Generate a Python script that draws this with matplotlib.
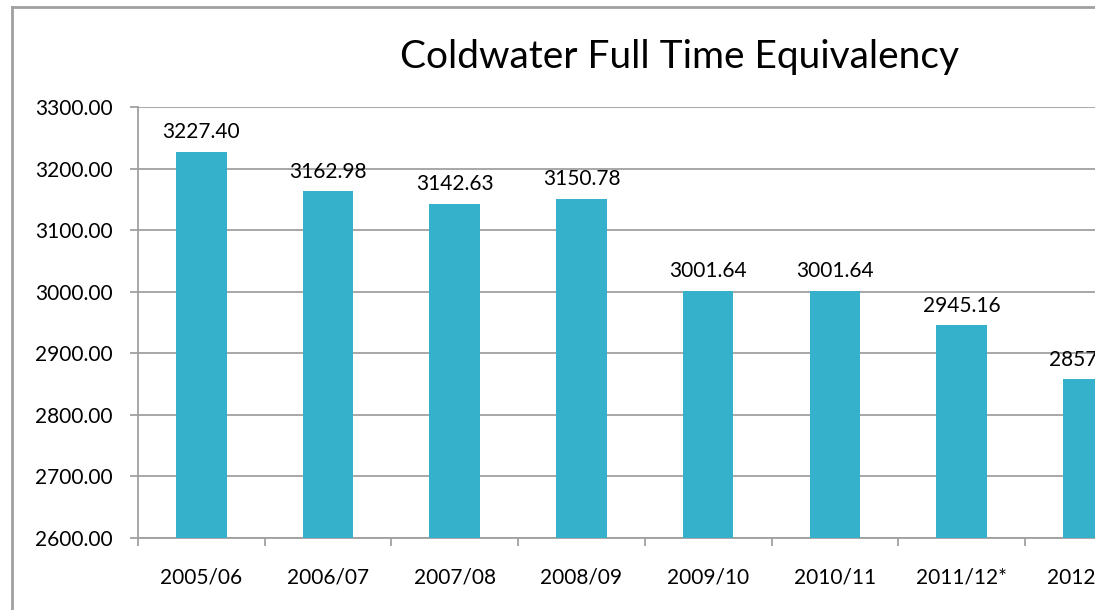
import matplotlib
matplotlib.use("Agg")
import matplotlib.pyplot as plt
from matplotlib.patches import Rectangle
from matplotlib.lines import Line2D
import numpy as np

categories = ["2005/06", "2006/07", "2007/08", "2008/09", "2009/10", "2010/11", "2011/12*", "2012/13"]
values = [3227.40, 3162.98, 3142.63, 3150.78, 3001.64, 3001.64, 2945.16, 2857.53]
yticks = [2600, 2700, 2800, 2900, 3000, 3100, 3200, 3300]
title = "Coldwater Full Time Equivalency"

plt.rcParams['font.family'] = ['Lato', 'DejaVu Sans']
W, H = 1111, 610
fig = plt.figure(figsize=(W / 100, H / 100), dpi=100)

left_px, right_px = 138, 138 + 8 * 126.7
bottom_px, top_px = 538, 107
ax = fig.add_axes([left_px / W, (H - bottom_px) / H, (right_px - left_px) / W, (bottom_px - top_px) / H])

x = np.arange(len(categories))
bar_color = "#36B1CB"
ax.bar(x, [v - 2600 for v in values], bottom=2600, width=0.4, color=bar_color, zorder=3)
for xi, v in zip(x, values):
    ax.annotate(f"{v:.2f}", (xi, v), xytext=(0, 7), textcoords="offset points",
                ha="center", va="bottom", fontsize=15, color="black")

ax.set_xlim(-0.5, len(categories) - 0.5)
ax.set_ylim(2600, 3300)
ax.set_yticks(yticks)
ax.set_yticklabels([f"{t:.2f}" for t in yticks], fontsize=15)
ax.set_xticks(x)
ax.set_xticklabels(categories, fontsize=15)
ax.set_xticks(np.arange(-0.5, len(categories), 1), minor=True)

grid_color = "#A0A0A0"
ax.yaxis.grid(True, color=grid_color, linewidth=1.3, zorder=0)
ax.set_axisbelow(True)
for s in ["top", "right"]:
    ax.spines[s].set_visible(False)
for s in ["left", "bottom"]:
    ax.spines[s].set_color(grid_color)
    ax.spines[s].set_linewidth(1.3)
ax.tick_params(axis="y", length=6, width=1.3, color=grid_color, pad=12)
ax.tick_params(axis="x", which="major", length=0, pad=21)
ax.tick_params(axis="x", which="minor", length=6, width=1.3, color=grid_color)

fig.text(680 / W, (H - 57) / H, title, ha="center", va="center", fontsize=28)

# outer chart frame
fig.add_artist(Line2D([12 / W, 12 / W], [0, (H - 6.5) / H], color="#A0A0A0", linewidth=2, zorder=20))
fig.add_artist(Line2D([12 / W, 1095 / W], [(H - 6.5) / H, (H - 6.5) / H], color="#A0A0A0", linewidth=2, zorder=20))
# clipped right strip
fig.add_artist(Rectangle((1095 / W, 0), (W - 1095) / W, 1, transform=fig.transFigure,
                         facecolor="white", edgecolor="none", zorder=30))

fig.savefig("out.png", dpi=100)
